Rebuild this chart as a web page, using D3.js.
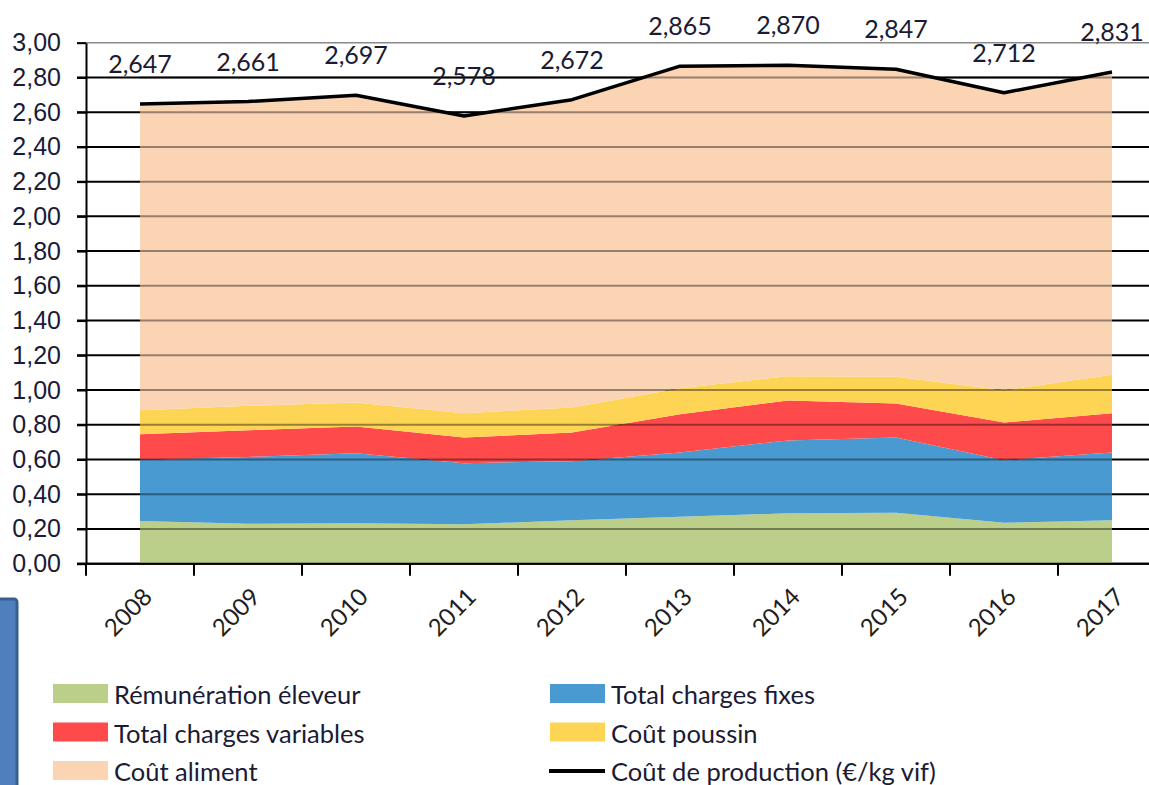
<!DOCTYPE html>
<html>
<head>
<meta charset="utf-8">
<script src="https://cdn.jsdelivr.net/npm/d3@7"></script>
<style>
  body { margin: 0; background: #fff; }
  svg { display: block; font-family: Lato, "Noto Sans", sans-serif; }
  .tick text { fill: #1b1b35; }
</style>
</head>
<body>
<div id="chart"></div>
<script>
// values (€/kg vif)
const years = ['2008', '2009', '2010', '2011', '2012', '2013', '2014', '2015', '2016', '2017']
const remuneration = [0.246, 0.230, 0.233, 0.227, 0.250, 0.270, 0.290, 0.294, 0.236, 0.250]
const chargesFixes = [0.352, 0.385, 0.403, 0.352, 0.340, 0.370, 0.420, 0.432, 0.360, 0.390]
const chargesVariables = [0.148, 0.154, 0.154, 0.147, 0.165, 0.220, 0.230, 0.196, 0.217, 0.227]
const coutPoussin = [0.138, 0.140, 0.138, 0.141, 0.145, 0.150, 0.140, 0.154, 0.186, 0.221]
const coutAliment = [1.763, 1.752, 1.769, 1.711, 1.772, 1.855, 1.790, 1.765, 1.713, 1.743]
const coutProduction = [2.647, 2.661, 2.697, 2.578, 2.672, 2.865, 2.870, 2.847, 2.712, 2.831]
const yTicks = [0, 0.2, 0.4, 0.6, 0.8, 1, 1.2, 1.4, 1.6, 1.8, 2, 2.2, 2.4, 2.6, 2.8, 3]

const series = [
  {key: 'remuneration', label: 'Rémunération éleveur', values: remuneration, color: '#bbce8a'},
  {key: 'fixes', label: 'Total charges fixes', values: chargesFixes, color: '#4a9ad2'},
  {key: 'variables', label: 'Total charges variables', values: chargesVariables, color: '#fe4a4a'},
  {key: 'poussin', label: 'Coût poussin', values: coutPoussin, color: '#fed455'},
  {key: 'aliment', label: 'Coût aliment', values: coutAliment, color: '#fbd4b4'}
]

const W = 1149
const H = 785
const margin = {left: 86, top: 43, bottom: 222}
const band = 108

const table = years.map((yr, i) => {
  const row = {year: yr}
  series.forEach(s => { row[s.key] = s.values[i] })
  return row
})

const stacked = d3.stack().keys(series.map(s => s.key))(table)

const x = d3.scaleBand()
  .domain(years)
  .range([margin.left, margin.left + band * years.length])
  .padding(0)
const cx = d => x(d) + x.bandwidth() / 2

const y = d3.scaleLinear()
  .domain([0, 3])
  .range([H - margin.bottom + 0.7, margin.top - 0.3])

const svg = d3.select('#chart').append('svg')
  .attr('width', W)
  .attr('height', H)

const fmt = v => d3.format('.2f')(v).replace('.', ',')
const fmt3 = v => d3.format('.3f')(v).replace('.', ',')

// grid under the areas
const gridUnder = svg.append('g').attr('class', 'grid-under')
gridUnder.selectAll('line')
  .data(yTicks)
  .enter().append('line')
  .attr('x1', margin.left - 9)
  .attr('x2', W)
  .attr('y1', d => y(d))
  .attr('y2', d => y(d))
  .attr('stroke', d => d === 3 ? '#8a8a8a' : '#000')
  .attr('stroke-width', d => d === 3 ? 1.5 : 2)

// stacked areas
const area = d3.area()
  .x(d => cx(d.data.year))
  .y0(d => y(d[0]))
  .y1(d => y(d[1]))

svg.append('g').attr('class', 'areas')
  .selectAll('path')
  .data(stacked)
  .enter().append('path')
  .attr('d', area)
  .attr('fill', (d, i) => series[i].color)

// grid showing through the areas
svg.append('g').attr('class', 'grid-over')
  .selectAll('line')
  .data(yTicks.filter(d => d > 0 && d < 3))
  .enter().append('line')
  .attr('x1', cx(years[0]))
  .attr('x2', cx(years[years.length - 1]))
  .attr('y1', d => y(d))
  .attr('y2', d => y(d))
  .attr('stroke', '#000')
  .attr('stroke-opacity', 0.4)
  .attr('stroke-width', 2)

// y axis
const yAxis = svg.append('g')
  .attr('transform', 'translate(' + margin.left + ',0)')
  .call(d3.axisLeft(y).tickValues(yTicks).tickFormat(fmt).tickSize(9).tickSizeOuter(0).tickPadding(16))
yAxis.select('.domain').attr('stroke', '#000').attr('stroke-width', 2)
yAxis.selectAll('.tick line').attr('stroke', '#000').attr('stroke-width', 2)
yAxis.selectAll('.tick text').attr('font-size', 25)

// x axis: ticks between categories, labels under the centres
const xBase = y(0)
svg.append('line')
  .attr('x1', margin.left - 9).attr('x2', W)
  .attr('y1', xBase).attr('y2', xBase)
  .attr('stroke', '#000').attr('stroke-width', 2)

svg.append('g').attr('class', 'x-ticks')
  .selectAll('line')
  .data(years)
  .enter().append('line')
  .attr('x1', d => x(d))
  .attr('x2', d => x(d))
  .attr('y1', xBase)
  .attr('y2', xBase + 12)
  .attr('stroke', '#000')
  .attr('stroke-width', 2)

svg.append('g').attr('class', 'x-labels')
  .selectAll('text')
  .data(years)
  .enter().append('text')
  .attr('transform', d => 'translate(' + (cx(d) + 7) + ',' + (xBase + 28) + ') rotate(-45)')
  .attr('text-anchor', 'end')
  .attr('dominant-baseline', 'central')
  .attr('font-size', 24)
  .attr('fill', '#1e1e1e')
  .text(d => d)

// production cost line
const line = d3.line()
  .x((d, i) => cx(years[i]))
  .y(d => y(d))

svg.append('path')
  .datum(coutProduction)
  .attr('d', line)
  .attr('fill', 'none')
  .attr('stroke', '#000')
  .attr('stroke-width', 3.5)
  .attr('stroke-linejoin', 'round')

svg.append('g').attr('class', 'values')
  .selectAll('text')
  .data(coutProduction)
  .enter().append('text')
  .attr('x', (d, i) => cx(years[i]))
  .attr('y', d => y(d) - 41)
  .attr('text-anchor', 'middle')
  .attr('dominant-baseline', 'central')
  .attr('font-size', 25)
  .attr('fill', '#1b1b35')
  .text(fmt3)

// legend
const legendItems = [
  {label: series[0].label, color: series[0].color, col: 0, row: 0},
  {label: series[1].label, color: series[1].color, col: 1, row: 0},
  {label: series[2].label, color: series[2].color, col: 0, row: 1},
  {label: series[3].label, color: series[3].color, col: 1, row: 1},
  {label: series[4].label, color: series[4].color, col: 0, row: 2},
  {label: 'Coût de production (€/kg vif)', color: '#000', col: 1, row: 2, line: true}
]
const legend = svg.append('g').attr('class', 'legend')
const item = legend.selectAll('g')
  .data(legendItems)
  .enter().append('g')
  .attr('transform', d => 'translate(' + (d.col ? 550 : 53) + ',' + (693 + d.row * 38.5) + ')')
item.filter(d => !d.line).append('rect')
  .attr('x', 0).attr('y', -9)
  .attr('width', 55).attr('height', 19)
  .attr('fill', d => d.color)
item.filter(d => d.line).append('line')
  .attr('x1', -1).attr('x2', 55)
  .attr('y1', 1).attr('y2', 1)
  .attr('stroke', '#000').attr('stroke-width', 4)
item.append('text')
  .attr('x', 61)
  .attr('y', 1)
  .attr('dominant-baseline', 'central')
  .attr('font-size', 25.5)
  .attr('fill', '#1b1b35')
  .text(d => d.label)

// blue box clipped at the lower-left edge
svg.append('rect')
  .attr('x', -10).attr('y', 599)
  .attr('width', 27).attr('height', 200)
  .attr('rx', 3)
  .attr('fill', '#4f7fbd')
  .attr('stroke', '#3a5f8f')
  .attr('stroke-width', 3)
</script>
</body>
</html>
